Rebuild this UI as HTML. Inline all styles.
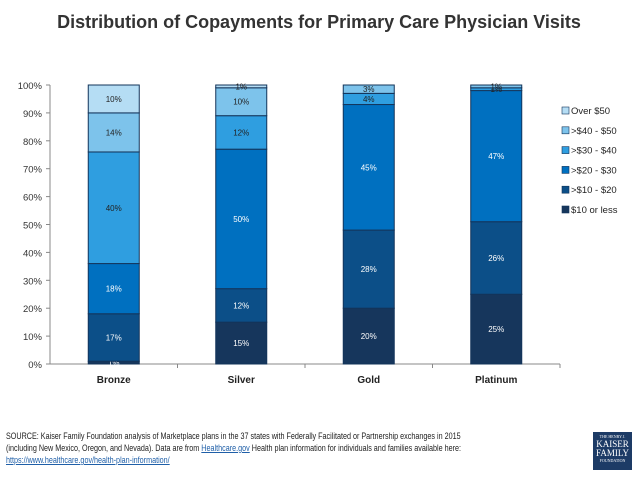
<!DOCTYPE html>
<html><head><meta charset="utf-8"><style>
body{margin:0;width:638px;height:479px;background:#fff;font-family:"Liberation Sans",sans-serif;overflow:hidden;position:relative}
#title{position:absolute;left:0;width:638px;top:12px;text-align:center;font-size:18px;font-weight:bold;color:#333}
#src{position:absolute;left:6px;top:430px;width:700px;font-size:9px;line-height:12px;color:#222;transform:scaleX(0.8);transform-origin:left top;white-space:nowrap}
#src a{color:#1f5fa8;text-decoration:underline}
#logo{position:absolute;left:593px;top:432px;width:39px;height:38px;background:#1d3b66;color:#fff;font-family:"Liberation Serif",serif;text-align:center;font-size:9px;line-height:9px}
</style></head><body>
<div id="title">Distribution of Copayments for Primary Care Physician Visits</div>
<svg id="chart" width="638" height="420" style="position:absolute;left:0;top:0"></svg>
<div id="src">SOURCE: Kaiser Family Foundation analysis of Marketplace plans in the 37 states with Federally Facilitated or Partnership exchanges in 2015<br>(including New Mexico, Oregon, and Nevada). Data are from <a>Healthcare.gov</a> Health plan information for individuals and families available here:<br><a>https://www.healthcare.gov/health-plan-information/</a></div>
<div id="logo"><div style="font-size:4px;line-height:6px;margin-top:2px">THE HENRY J.</div><div>KAISER</div><div>FAMILY</div><div style="font-size:4px;line-height:6px">FOUNDATION</div></div>
<script>
const categories=["Bronze","Silver","Gold","Platinum"];
const seriesNames=["$10 or less",">$10 - $20",">$20 - $30",">$30 - $40",">$40 - $50","Over $50"];
const s10orLess=[1,15,20,25];
const s10to20=[17,12,28,26];
const s20to30=[18,50,45,47];
const s30to40=[40,12,4,1];
const s40to50=[14,10,3,1];
const sOver50=[10,1,0,0];
const yTicks=[0,10,20,30,40,50,60,70,80,90,100];
const series=[s10orLess,s10to20,s20to30,s30to40,s40to50,sOver50];
const colors=["#16365c","#0c4f88","#0070c0","#2f9ee0","#7dc3eb","#b5ddf4"];
const textCol=["#fff","#fff","#fff","#222","#222","#222"];
const NS="http://www.w3.org/2000/svg";
const svg=document.getElementById('chart');
const x0=50,x1=560,yb=364,yt=85;
const y=v=>yb-(v/100)*(yb-yt);
const band=(x1-x0)/categories.length;
const xc=i=>x0+band*(i+0.5);
const bw=51;
function mk(t,a){const e=document.createElementNS(NS,t);for(const k in a)e.setAttribute(k,a[k]);svg.appendChild(e);return e;}
yTicks.forEach(t=>{
 const l=mk('text',{x:x0-8,y:y(t)+4,'text-anchor':'end','font-size':'9.5','fill':'#333'});
 l.textContent=t+'%';
 
 
 mk('line',{x1:x0-4,x2:x0,y1:y(t),y2:y(t),stroke:'#888'});
});
mk('line',{x1:x0,x2:x0,y1:yt,y2:yb,stroke:'#888'});
mk('line',{x1:x0,x2:x1,y1:yb,y2:yb,stroke:'#888'});
categories.forEach((c,i)=>{
 mk('line',{x1:x0+band*(i+1),x2:x0+band*(i+1),y1:yb,y2:yb+4,stroke:'#888'});
 const l=mk('text',{x:xc(i),y:yb+19,'text-anchor':'middle','font-size':'10','font-weight':'bold','fill':'#222'});
 l.textContent=c;
 
 
 let acc=0;
 series.forEach((s,j)=>{
  const v=s[i]; if(v<=0) return;
  const r=mk('rect',{x:xc(i)-bw/2,y:y(acc+v),width:bw,height:y(acc)-y(acc+v),fill:colors[j],stroke:'#13345a','stroke-width':'1'});
  
  
  const t=mk('text',{x:xc(i),y:(y(acc)+y(acc+v))/2+3,'text-anchor':'middle','font-size':'8','fill':textCol[j]});
  t.textContent=v+'%';
  
  
  acc+=v;
 });
});
for(let j=5;j>=0;j--){
 const ly=111+(5-j)*19.8;
 const r=mk('rect',{x:562,y:ly-4,width:7,height:7,fill:colors[j],stroke:'#13345a','stroke-width':'0.6'});
 
 
 const t=mk('text',{x:571,y:ly+3,'font-size':'9.5','fill':'#222'});
 t.textContent=seriesNames[j];
 
 
}
</script>
</body></html>
